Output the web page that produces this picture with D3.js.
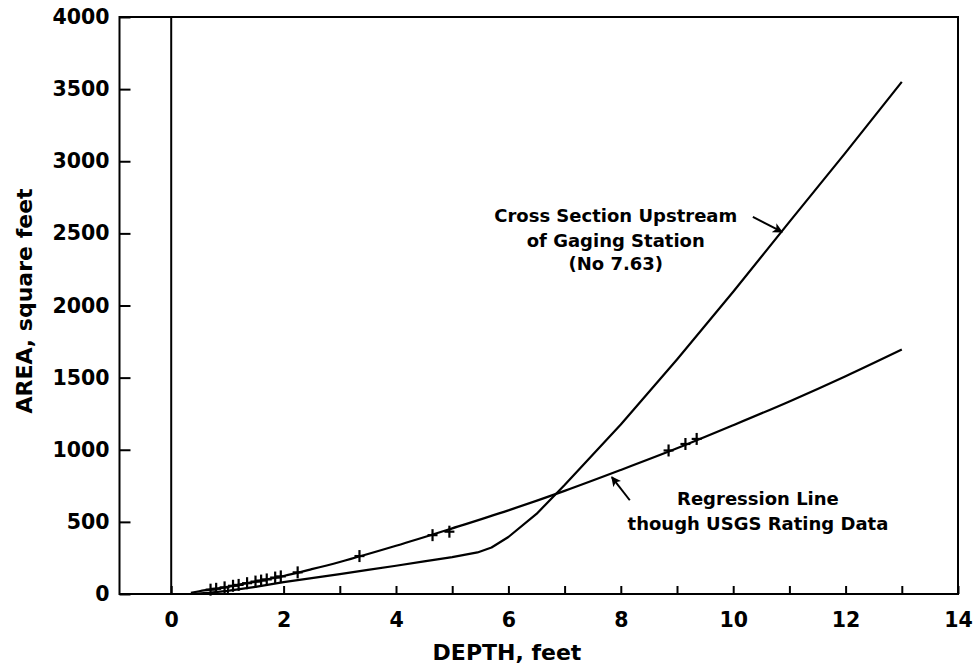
<!DOCTYPE html>
<html>
<head>
<meta charset="utf-8">
<script src="https://cdn.jsdelivr.net/npm/d3@7"></script>
<style>
  html, body { margin: 0; padding: 0; background: #fff; }
  svg { display: block; }
  text { font-family: "DejaVu Sans", sans-serif; font-weight: bold; fill: #000; }
</style>
</head>
<body>
<svg id="chart" width="976" height="671"></svg>
<script>
// Axis ticks
const depthTicks = [0, 1, 2, 3, 4, 5, 6, 7, 8, 9, 10, 11, 12, 13, 14];
const depthLabels = [0, 2, 4, 6, 8, 10, 12, 14];
const areaTicks = [0, 500, 1000, 1500, 2000, 2500, 3000, 3500, 4000];

// Cross section upstream of gaging station: depth (ft) vs area (sq ft)
const sectionDepth = [0.35, 0.7, 1, 1.5, 2, 2.5, 3, 3.5, 4, 4.5, 5, 5.45, 5.7, 6, 6.5, 7, 7.5, 8, 9, 10, 11, 12, 13];
const sectionArea  = [0, 9, 22, 50, 82, 110, 138, 167, 196, 226, 256, 288, 322, 395, 555, 755, 965, 1175, 1625, 2095, 2580, 3060, 3550];

// Regression line through USGS rating data
const regDepth = [0.35, 0.5, 1, 1.5, 2, 2.5, 3, 4, 5, 6, 7, 8, 9, 10, 11, 12, 13];
const regArea  = [8, 19, 49, 86, 125, 172, 222, 334, 455, 580, 715, 860, 1010, 1170, 1335, 1510, 1695];

// USGS rating data points
const ratingDepth = [0.7, 0.8, 0.95, 1.1, 1.2, 1.35, 1.5, 1.6, 1.7, 1.85, 1.95, 2.25, 3.35, 4.65, 4.95, 8.85, 9.15, 9.35];
const ratingArea  = [30, 36, 46, 57, 63, 75, 86, 93, 101, 114, 122, 150, 263, 408, 432, 995, 1040, 1075];

const svg = d3.select("#chart");

const x = d3.scaleLinear().domain([-0.92, 14]).range([119.5, 958]);
const y = d3.scaleLinear().domain([0, 4000]).range([594, 17]);

// Arrowhead marker
svg.append("defs").append("marker")
  .attr("id", "arrowhead")
  .attr("viewBox", "0 0 10 10")
  .attr("refX", 9).attr("refY", 5)
  .attr("markerWidth", 5).attr("markerHeight", 5)
  .attr("markerUnits", "strokeWidth")
  .attr("orient", "auto")
  .append("path")
  .attr("d", "M0,0 L10,5 L0,10 L2.5,5 Z")
  .attr("fill", "#000");

// Bottom axis: inward ticks at each foot, labels every 2 ft
const xAxis = d3.axisBottom(x)
  .tickValues(depthTicks)
  .tickSize(-8)
  .tickPadding(18)
  .tickFormat(d => depthLabels.includes(d) ? d : "");
const gx = svg.append("g").attr("transform", `translate(0,${y(0)})`).call(xAxis);
gx.select(".domain").remove();
gx.selectAll(".tick line").attr("stroke", "#000").attr("stroke-width", 2);
gx.selectAll(".tick text").style("font-size", "20.5px").style("font-family", "DejaVu Sans").style("font-weight", "bold");

// Left axis
const yAxis = d3.axisLeft(y)
  .tickValues(areaTicks)
  .tickSize(-11)
  .tickPadding(10)
  .tickFormat(d3.format("d"));
const gy = svg.append("g").attr("transform", `translate(${x(-0.92)},0)`).call(yAxis);
gy.select(".domain").remove();
gy.selectAll(".tick line").attr("stroke", "#000").attr("stroke-width", 2);
gy.selectAll(".tick text").style("font-size", "20.5px").style("font-family", "DejaVu Sans").style("font-weight", "bold");

// Plot frame
svg.append("rect")
  .attr("x", x(-0.92)).attr("y", y(4000))
  .attr("width", x(14) - x(-0.92)).attr("height", y(0) - y(4000))
  .attr("fill", "none").attr("stroke", "#000").attr("stroke-width", 2);

// Zero-depth reference line
svg.append("line")
  .attr("x1", x(0)).attr("x2", x(0))
  .attr("y1", y(0)).attr("y2", y(4000))
  .attr("stroke", "#000").attr("stroke-width", 2);

const sectionLine = d3.line().x(d => x(d[0])).y(d => y(d[1])).curve(d3.curveLinear);
const regLine = d3.line().x(d => x(d[0])).y(d => y(d[1])).curve(d3.curveMonotoneX);

svg.append("path")
  .datum(sectionDepth.map((d, i) => [d, sectionArea[i]]))
  .attr("d", sectionLine)
  .attr("fill", "none").attr("stroke", "#000").attr("stroke-width", 2.2)
  .attr("stroke-linejoin", "round");

svg.append("path")
  .datum(regDepth.map((d, i) => [d, regArea[i]]))
  .attr("d", regLine)
  .attr("fill", "none").attr("stroke", "#000").attr("stroke-width", 2.2);

// Rating data as "+" marks
const plus = svg.append("g");
ratingDepth.forEach((d, i) => {
  const cx = x(d), cy = y(ratingArea[i]);
  plus.append("line").attr("x1", cx - 5).attr("x2", cx + 5).attr("y1", cy).attr("y2", cy)
    .attr("stroke", "#000").attr("stroke-width", 2.2);
  plus.append("line").attr("x1", cx).attr("x2", cx).attr("y1", cy - 6).attr("y2", cy + 6)
    .attr("stroke", "#000").attr("stroke-width", 2.2);
});

// Axis titles
svg.append("text")
  .attr("x", 507).attr("y", 660)
  .attr("text-anchor", "middle")
  .style("font-size", "22px")
  .text("DEPTH, feet");

svg.append("text")
  .attr("transform", "translate(32,301) rotate(-90)")
  .attr("text-anchor", "middle")
  .style("font-size", "22px")
  .text("AREA, square feet");

// Annotations
const sectionLabel = ["Cross Section Upstream", "of Gaging Station", "(No 7.63)"];
const sectionLabelAt = { depth: 7.91, area: [2579, 2406, 2246] };
sectionLabel.forEach((t, i) => {
  svg.append("text")
    .attr("x", x(sectionLabelAt.depth)).attr("y", y(sectionLabelAt.area[i]))
    .attr("text-anchor", "middle").style("font-size", "18px")
    .text(t);
});

const regLabel = ["Regression Line", "though USGS Rating Data"];
const regLabelAt = { depth: 10.44, area: [617, 444] };
regLabel.forEach((t, i) => {
  svg.append("text")
    .attr("x", x(regLabelAt.depth)).attr("y", y(regLabelAt.area[i]))
    .attr("text-anchor", "middle").style("font-size", "18px")
    .text(t);
});

// Pointer arrows (tail -> tip, in data units)
const arrows = [
  { from: [10.35, 2615], to: [10.87, 2510] },
  { from: [8.16, 650], to: [7.84, 811] }
];
arrows.forEach(a => {
  svg.append("line")
    .attr("x1", x(a.from[0])).attr("y1", y(a.from[1]))
    .attr("x2", x(a.to[0])).attr("y2", y(a.to[1]))
    .attr("stroke", "#000").attr("stroke-width", 2)
    .attr("marker-end", "url(#arrowhead)");
});
</script>
</body>
</html>
